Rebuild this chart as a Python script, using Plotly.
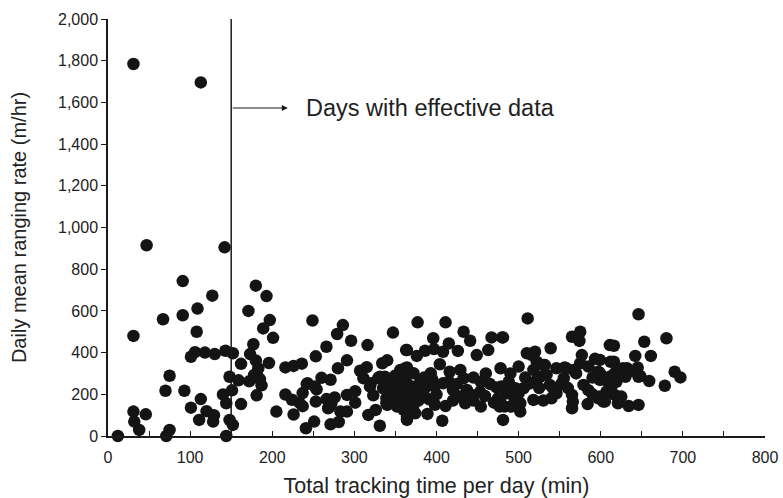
import plotly.graph_objects as go

# Total tracking time per day (min) and daily mean ranging rate (m/hr)
tracking_min = [
    12, 31, 113, 47, 142, 31, 31, 32, 46, 38, 71, 75, 67, 91, 91, 109, 127, 108, 101, 106,
    118, 130, 143, 75, 70, 93, 113, 101, 120, 111, 129, 128, 148, 144, 140, 144,
    152, 152, 151, 162, 148, 159, 172, 182, 162, 173, 177, 180, 171, 180, 193, 197, 189, 201,
    196, 216, 226, 236, 183, 187, 181, 205, 216, 224, 233, 237, 237, 242, 226, 241, 249, 185, 178,
    251, 279, 286, 296, 266, 253, 316, 347, 363, 291, 280, 307, 315, 334, 340, 356, 364, 243,
    252, 260, 271, 253, 266, 276, 270, 283, 291, 291, 301, 301, 271, 281, 319, 323, 317, 326,
    331, 331, 339, 343, 341, 340, 352, 360, 364, 356, 360, 352, 364, 254, 268, 272, 311, 320,
    329, 337, 335, 339, 339, 345, 348, 355, 350, 358, 362, 368, 370, 345, 366, 372,
    377, 411, 433, 441, 396, 364, 376, 386, 397, 408, 415, 426, 449, 463, 467, 480, 478, 362,
    372, 376, 388, 398, 408, 393, 404, 416, 429, 433, 420, 429, 437, 435, 443, 391, 389, 411,
    407, 454, 453, 459, 454, 473, 475, 485, 477, 481, 368, 372, 364, 374, 380, 384, 378, 385,
    368, 395, 400, 415, 425, 445, 460, 465, 490, 488, 445, 420, 470, 495, 398,
    511, 481, 500, 520, 516, 522, 530, 518, 526, 522, 539, 534, 538, 542, 546, 540, 546, 556,
    567, 555, 565, 575, 574, 577, 575, 585, 593, 597, 599, 579, 565, 565, 566, 584, 597, 603,
    479, 477, 483, 491, 502, 502, 496, 506, 518, 500, 510, 532, 558, 611, 612, 646, 680, 653,
    616, 642, 661, 616, 621, 632, 630, 645, 646, 659, 678, 690, 697, 599, 599, 605, 613, 619,
    607, 617, 621, 605, 634, 646, 611, 617, 627, 634, 625, 607, 599, 648, 508, 512, 525, 552,
    560, 590, 585, 590, 530, 570,
]
ranging_rate = [
    0, 1784, 1696, 915, 905, 480, 117, 69, 104, 29, 0, 29, 560, 743, 579, 611, 673, 500, 380, 402,
    400, 393, 409, 289, 217, 217, 177, 136, 119, 77, 100, 69, 77, 0, 199, 157,
    397, 53, 219, 153, 284, 267, 262, 287, 346, 393, 440, 362, 600, 721, 671, 556, 516, 471,
    350, 329, 336, 347, 325, 243, 195, 117, 199, 174, 160, 143, 206, 249, 103, 37, 554, 272, 293,
    69, 489, 532, 457, 428, 382, 436, 496, 412, 363, 325, 313, 330, 349, 363, 317, 329, 253,
    237, 279, 270, 165, 177, 185, 141, 117, 117, 197, 215, 160, 56, 67, 237, 195, 101, 125,
    49, 284, 269, 237, 189, 149, 221, 237, 189, 157, 125, 141, 77, 224, 133, 157, 277, 253,
    277, 284, 229, 181, 157, 205, 172, 252, 290, 205, 270, 240, 205, 260, 160, 118,
    545, 545, 500, 457, 469, 412, 384, 409, 417, 404, 444, 408, 388, 412, 473, 473, 325, 325,
    301, 229, 237, 240, 253, 301, 344, 308, 317, 277, 221, 189, 221, 157, 197, 176, 106, 144,
    73, 260, 212, 192, 141, 233, 181, 205, 141, 77, 189, 149, 93, 109, 260, 200, 170, 280,
    300, 270, 200, 260, 250, 280, 300, 250, 300, 260, 170, 170, 160, 180, 150,
    564, 473, 333, 404, 388, 356, 340, 317, 284, 269, 421, 293, 245, 229, 205, 181, 325, 329,
    317, 277, 476, 500, 456, 388, 349, 333, 370, 308, 269, 245, 197, 133, 165, 153, 181, 165,
    237, 173, 141, 141, 117, 157, 229, 229, 173, 205, 397, 340, 325, 436, 356, 584, 469, 452,
    433, 384, 384, 356, 317, 325, 284, 328, 284, 264, 241, 308, 281, 365, 301, 269, 237, 260,
    205, 197, 157, 165, 144, 149, 284, 301, 325, 308, 189, 213, 189, 288, 280, 250, 230, 250,
    230, 280, 220, 200, 170, 300,
]

cutoff_min = 150
arrow_level = 1573
arrow_tip = 219
note_x = 239
note_text = "Days with effective data"

ink = "#1a1a1a"
font_family = "Liberation Sans, Arial, sans-serif"

fig = go.Figure()
fig.add_trace(go.Scatter(
    x=tracking_min, y=ranging_rate, mode="markers",
    marker=dict(size=12.5, color="#141414", line=dict(width=0)),
    cliponaxis=False, hoverinfo="skip",
))

# cutoff line separating days with effective data
fig.add_shape(type="line", xref="x", yref="y",
              x0=cutoff_min, x1=cutoff_min, y0=0, y1=2000,
              line=dict(color=ink, width=1.5))

fig.add_annotation(x=arrow_tip, y=arrow_level, ax=cutoff_min, ay=arrow_level,
                   xref="x", yref="y", axref="x", ayref="y",
                   text="", showarrow=True, arrowhead=2, arrowsize=1.1,
                   arrowwidth=1.1, arrowcolor=ink, standoff=0, startstandoff=0)
fig.add_annotation(x=note_x, y=arrow_level, xref="x", yref="y",
                   text=note_text, showarrow=False, xanchor="left", yanchor="middle",
                   font=dict(size=23.5, color="#222", family=font_family))

fig.update_layout(
    width=783, height=498,
    margin=dict(l=108, r=18, t=19, b=62),
    paper_bgcolor="white", plot_bgcolor="white",
    showlegend=False,
    font=dict(family=font_family, size=16, color="#222"),
    xaxis=dict(
        range=[0, 800], dtick=100, tick0=0,
        showgrid=False, zeroline=False, automargin=False,
        showline=True, linecolor=ink, linewidth=1.5,
        ticks="inside", ticklen=5, tickwidth=1.2, tickcolor=ink,
        minor=dict(dtick=50, ticks="inside", ticklen=5, tickwidth=1.2, tickcolor=ink),
        ticklabelstandoff=6,
        title=dict(text="Total tracking time per day (min)", font=dict(size=21.5), standoff=20),
        fixedrange=True,
    ),
    yaxis=dict(
        range=[0, 2000], dtick=200, tick0=0, tickformat=",d",
        showgrid=False, zeroline=False, automargin=False,
        showline=True, linecolor=ink, linewidth=1.5,
        ticks="outside", ticklen=5, tickwidth=1.2, tickcolor=ink,
        title=dict(text="Daily mean ranging rate (m/hr)", font=dict(size=20), standoff=26),
        fixedrange=True,
    ),
)

fig.write_html("out.html")
